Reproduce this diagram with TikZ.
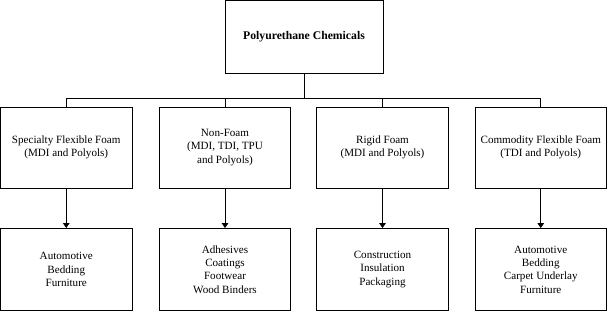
\documentclass[tikz,border=0pt]{standalone}
\usepackage{fontspec}
\setmainfont{Liberation Serif}
\usetikzlibrary{arrows.meta}
\tikzset{
  chem/.style = {draw, line width = 0.8pt, align = center, inner sep = 2pt,
                 font = \fontsize{11.1}{13.4}\selectfont},
  midbox/.style = {chem, minimum width = 131.5pt, minimum height = 81pt},
  endbox/.style = {chem, minimum width = 131.5pt, minimum height = 82pt},
  link/.style = {line width = 0.8pt},
  feed/.style = {line width = 0.8pt, -{Triangle[width = 6.5pt, length = 5pt]}}
}
\begin{document}
\begin{tikzpicture}[x = 1pt, y = -1pt]
\useasboundingbox (0,0) rectangle (607,311);
% top level
\node [chem, minimum width = 158pt, minimum height = 72.5pt, font = \fontsize{11.7}{14}\selectfont] (pu) at (304,36.75) {\textbf{Polyurethane Chemicals}};
\coordinate (bus) at (304,98);
% foam classes
\node [midbox] (m1) at (66.25,147.5) {Specialty Flexible Foam\\(MDI and Polyols)};
\node [midbox] (m2) at (225,147.5) {Non-Foam\\(MDI, TDI, TPU\\and Polyols)};
\node [midbox] (m3) at (382.5,147.5) {Rigid Foam\\(MDI and Polyols)};
\node [midbox] (m4) at (540.75,147.5) {Commodity Flexible Foam\\(TDI and Polyols)};
% end uses
\node [endbox] (u1) at (66.25,269.5) {Automotive\\Bedding\\Furniture};
\node [endbox] (u2) at (225,269.5) {Adhesives\\Coatings\\Footwear\\Wood Binders};
\node [endbox] (u3) at (382.5,269.5) {Construction\\Insulation\\Packaging};
\node [endbox] (u4) at (540.75,269.5) {Automotive\\Bedding\\Carpet Underlay\\Furniture};
% tree lines
\draw [link] (pu.south) -- (bus);
\draw [link] (m1.north |- bus) -- (m4.north |- bus);
\draw [link] (m1.north |- bus) -- (m1.north);
\draw [link] (m2.north |- bus) -- (m2.north);
\draw [link] (m3.north |- bus) -- (m3.north);
\draw [link] (m4.north |- bus) -- (m4.north);
\draw [feed] (m1.south) -- (u1.north);
\draw [feed] (m2.south) -- (u2.north);
\draw [feed] (m3.south) -- (u3.north);
\draw [feed] (m4.south) -- (u4.north);
\end{tikzpicture}
\end{document}
